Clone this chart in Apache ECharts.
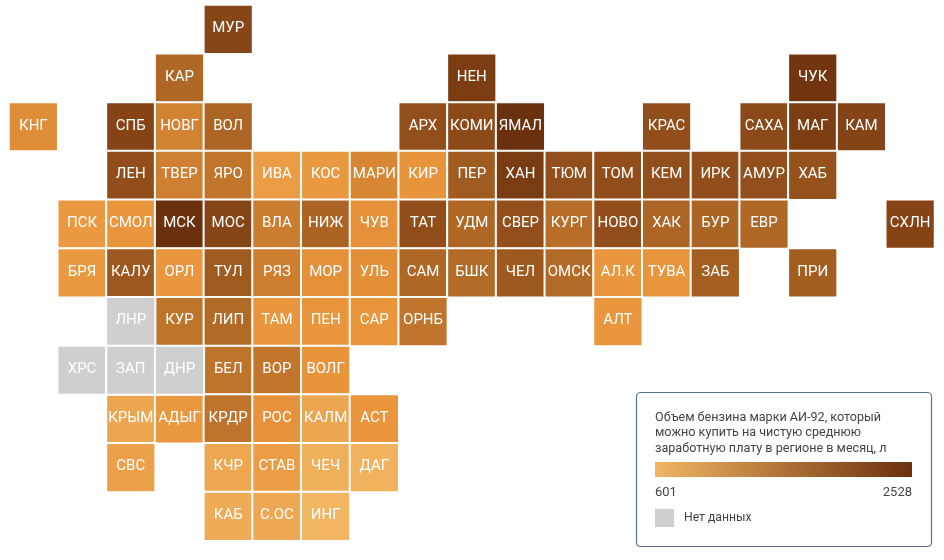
<!DOCTYPE html>
<html lang="ru">
<head>
  <meta charset="UTF-8">
  <title>АИ-92</title>
  <script src="https://cdn.jsdelivr.net/npm/echarts@6/dist/echarts.min.js"></script>
  <style>
    html, body { margin: 0; background: #fff; }
    #main { width: 944px; height: 560px; }
  </style>
</head>
<body>
<div id="main"></div>
<script>
  // регионы с данными: код, столбец и строка плитки, литры
  var regions = ['МУР','КАР','НЕН','ЧУК','КНГ','СПБ','НОВГ','ВОЛ','АРХ','КОМИ','ЯМАЛ','КРАС','САХА','МАГ','КАМ',
    'ЛЕН','ТВЕР','ЯРО','ИВА','КОС','МАРИ','КИР','ПЕР','ХАН','ТЮМ','ТОМ','КЕМ','ИРК','АМУР','ХАБ',
    'ПСК','СМОЛ','МСК','МОС','ВЛА','НИЖ','ЧУВ','ТАТ','УДМ','СВЕР','КУРГ','НОВО','ХАК','БУР','ЕВР','СХЛН',
    'БРЯ','КАЛУ','ОРЛ','ТУЛ','РЯЗ','МОР','УЛЬ','САМ','БШК','ЧЕЛ','ОМСК','АЛ.К','ТУВА','ЗАБ','ПРИ',
    'КУР','ЛИП','ТАМ','ПЕН','САР','ОРНБ','АЛТ',
    'БЕЛ','ВОР','ВОЛГ',
    'КРЫМ','АДЫГ','КРДР','РОС','КАЛМ','АСТ',
    'СВС','КЧР','СТАВ','ЧЕЧ','ДАГ',
    'КАБ','С.ОС','ИНГ']
  var regionCols = [4,3,9,16,0,2,3,4,8,9,10,13,15,16,17,
    2,3,4,5,6,7,8,9,10,11,12,13,14,15,16,
    1,2,3,4,5,6,7,8,9,10,11,12,13,14,15,18,
    1,2,3,4,5,6,7,8,9,10,11,12,13,14,16,
    3,4,5,6,7,8,12,
    4,5,6,
    2,3,4,5,6,7,
    2,4,5,6,7,
    4,5,6]
  var regionRows = [0,1,1,1,2,2,2,2,2,2,2,2,2,2,2,
    3,3,3,3,3,3,3,3,3,3,3,3,3,3,3,
    4,4,4,4,4,4,4,4,4,4,4,4,4,4,4,4,
    5,5,5,5,5,5,5,5,5,5,5,5,5,5,5,
    6,6,6,6,6,6,6,
    7,7,7,
    8,8,8,8,8,8,
    9,9,9,9,9,
    10,10,10]
  var litres = [2010,1560,2200,2400,1150,2040,1270,1590,1880,1950,2528,1900,1960,2200,2030,
    1900,1300,1400,950,1000,1220,1070,1730,2230,1890,1900,1890,1900,1880,1850,
    1000,1060,2528,2020,1330,1600,1100,1900,1570,1880,1490,1900,1590,1610,1550,2040,
    1000,1770,1040,1740,1310,1120,1130,1560,1530,1750,1530,1040,1060,1680,1700,
    1420,1530,1040,1060,1060,1410,1040,
    1420,1400,1070,
    820,1010,1420,1090,820,1060,
    900,800,960,680,650,
    760,780,601]

  // нет данных
  var noDataRegions = ['ЛНР','ХРС','ЗАП','ДНР']
  var noDataCols = [2,1,2,3]
  var noDataRows = [6,7,7,7]

  var columns = ['0','1','2','3','4','5','6','7','8','9','10','11','12','13','14','15','16','17','18']
  var rows = ['0','1','2','3','4','5','6','7','8','9','10']
  var scaleColors = ['#F2B562','#E8933A','#AE6725','#844316','#6B300E']
  var legendColors = ['#F2B562','#6B300E']
  var scaleMin = 601
  var scaleMax = 2528
  var legendTitle = ['Объем бензина марки АИ-92, который', 'можно купить на чистую среднюю', 'заработную плату в регионе в месяц, л']
  var noDataLabel = 'Нет данных'

  var FONT = 'Roboto, sans-serif'
  var myChart = echarts.init(document.getElementById('main'), null, { renderer: 'canvas' })

  var tileLabel = { show: true, color: '#fff', fontFamily: FONT, fontSize: 15, offset: [0, -1], formatter: function (p) { return p.name } }

  var option = {
    animation: false,
    backgroundColor: '#fff',
    grid: { left: 9, top: 5, width: 925.5, height: 535.7 },
    xAxis: { type: 'category', data: columns, show: false },
    yAxis: { type: 'category', data: rows, inverse: true, show: false },
    visualMap: {
      type: 'continuous',
      seriesIndex: 0,
      min: scaleMin,
      max: scaleMax,
      show: false,
      inRange: { color: scaleColors }
    },
    series: [
      {
        type: 'heatmap',
        data: regions.map(function (name, i) {
          return { name: name, value: [regionCols[i], regionRows[i], litres[i]] }
        }),
        itemStyle: { borderColor: '#fff', borderWidth: 2 },
        label: tileLabel,
        emphasis: { disabled: true }
      },
      {
        type: 'heatmap',
        data: noDataRegions.map(function (name, i) {
          return { name: name, value: [noDataCols[i], noDataRows[i], 0] }
        }),
        itemStyle: { color: '#CFCFCF', borderColor: '#fff', borderWidth: 2 },
        label: tileLabel,
        emphasis: { disabled: true }
      }
    ],
    graphic: [
      {
        type: 'rect',
        z: -1,
        shape: { x: 636.5, y: 392.5, width: 295, height: 154, r: 4 },
        style: { fill: '#fff', stroke: '#5B6F8F', lineWidth: 1.2 }
      },
      {
        type: 'text', x: 655, y: 410.5,
        style: { text: legendTitle.join('\n'), fill: '#444', font: '12.6px ' + FONT, lineHeight: 15.2 }
      },
      {
        type: 'rect',
        shape: { x: 655, y: 462, width: 257, height: 15 },
        style: {
          fill: new echarts.graphic.LinearGradient(0, 0, 1, 0, [
            { offset: 0, color: legendColors[0] },
            { offset: 1, color: legendColors[1] }
          ])
        }
      },
      {
        type: 'text', x: 655, y: 486,
        style: { text: String(scaleMin), fill: '#444', font: '13px ' + FONT }
      },
      {
        type: 'text', x: 912, y: 486,
        style: { text: String(scaleMax), fill: '#444', font: '13px ' + FONT, textAlign: 'right' }
      },
      {
        type: 'rect',
        shape: { x: 655, y: 509, width: 19, height: 18 },
        style: { fill: '#CFCFCF' }
      },
      {
        type: 'text', x: 684, y: 512,
        style: { text: noDataLabel, fill: '#444', font: '12.2px ' + FONT }
      }
    ]
  }

  myChart.setOption(option)
  window.addEventListener('resize', myChart.resize)
</script>
</body>
</html>
